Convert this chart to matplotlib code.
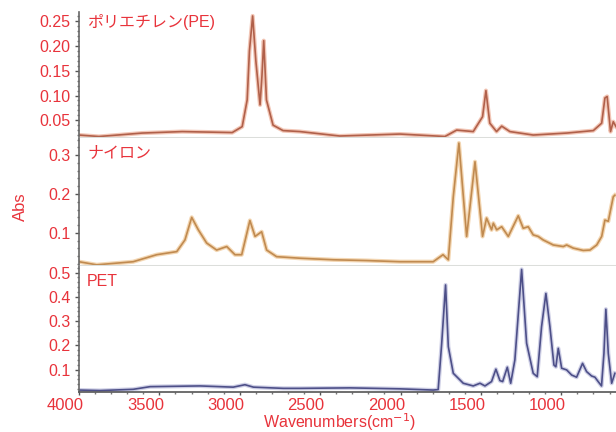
from matplotlib import pyplot as plt
from matplotlib.ticker import MultipleLocator
import matplotlib.transforms as mtransforms

plt.rcParams['font.family'] = ['Liberation Sans', 'Noto Sans CJK JP', 'DejaVu Sans']

RED = '#e8333b'

# spectra (wavenumber, absorbance)
pe_wn = [4000, 3876, 3607, 3358, 3047, 2985, 2954, 2940, 2920, 2900, 2874, 2862, 2851, 2834,
         2793, 2731, 2626, 2378, 2004, 1724, 1651, 1548, 1490, 1469, 1445, 1403, 1371, 1320,
         1175, 967, 801, 749, 729, 715, 694, 677, 660]
pe_abs = [0.020, 0.017, 0.024, 0.027, 0.025, 0.037, 0.091, 0.19, 0.261, 0.17, 0.081, 0.14, 0.211, 0.091,
          0.040, 0.029, 0.027, 0.018, 0.022, 0.017, 0.030, 0.027, 0.057, 0.110, 0.044, 0.027, 0.038, 0.027,
          0.020, 0.024, 0.029, 0.044, 0.095, 0.098, 0.027, 0.047, 0.037]

ny_wn = [4000, 3890, 3663, 3517, 3392, 3341, 3299, 3258, 3206, 3144, 3081, 3030, 2988, 2937,
         2905, 2864, 2833, 2771, 2626, 2418, 2211, 2004, 1797, 1736, 1703, 1672, 1637, 1589,
         1537, 1490, 1465, 1434, 1423, 1402, 1371, 1330, 1268, 1237, 1206, 1175, 1144, 1113,
         1050, 988, 967, 926, 864, 822, 780, 749, 729, 708, 677, 667]
ny_abs = [0.026, 0.018, 0.026, 0.044, 0.052, 0.082, 0.140, 0.108, 0.074, 0.056, 0.065, 0.044, 0.044, 0.132,
          0.091, 0.103, 0.056, 0.039, 0.035, 0.031, 0.029, 0.026, 0.026, 0.044, 0.031, 0.193, 0.331, 0.091,
          0.283, 0.091, 0.138, 0.108, 0.125, 0.108, 0.116, 0.091, 0.144, 0.112, 0.116, 0.095, 0.091, 0.082,
          0.069, 0.065, 0.069, 0.061, 0.055, 0.056, 0.069, 0.091, 0.133, 0.130, 0.193, 0.197]

pet_wn = [4000, 3869, 3663, 3558, 3248, 3041, 2968, 2915, 2729, 2626, 2315, 2004, 1797, 1766,
          1744, 1720, 1703, 1672, 1610, 1548, 1506, 1475, 1434, 1407, 1382, 1365, 1336, 1315,
          1289, 1247, 1216, 1175, 1150, 1123, 1096, 1071, 1046, 1034, 1019, 998, 967, 936,
          905, 868, 843, 812, 791, 771, 750, 735, 723, 708, 687, 667]
pet_abs = [0.016, 0.014, 0.019, 0.030, 0.033, 0.028, 0.038, 0.028, 0.023, 0.023, 0.025, 0.021, 0.016, 0.018,
           0.209, 0.449, 0.195, 0.085, 0.044, 0.033, 0.044, 0.033, 0.051, 0.102, 0.055, 0.051, 0.110, 0.044,
           0.140, 0.513, 0.209, 0.085, 0.071, 0.277, 0.414, 0.277, 0.119, 0.112, 0.188, 0.106, 0.099, 0.078,
           0.069, 0.126, 0.092, 0.074, 0.069, 0.051, 0.033, 0.167, 0.349, 0.167, 0.044, 0.085]

panels = [
    ('ポリエチレン(PE)', pe_wn, pe_abs, '#b0604a', '#f2c6b6', (0.014, 0.269), [0.05, 0.10, 0.15, 0.20, 0.25], 0.01, '{:.2f}'),
    ('ナイロン', ny_wn, ny_abs, '#c08a50', '#f3d6b2', (0.015, 0.344), [0.1, 0.2, 0.3], 0.02, '{:.1f}'),
    ('PET', pet_wn, pet_abs, '#4d4f88', '#cfd0e6', (0.008, 0.527), [0.1, 0.2, 0.3, 0.4, 0.5], 0.02, '{:.1f}'),
]

fig = plt.figure(figsize=(6.16, 4.32), dpi=100)
left, width = 79 / 616, 1 - 79 / 616
edges = [12, 138, 266, 392]  # pixel rows of panel borders
name_rows = [22, 153, 282]   # pixel rows of the panel names

axes = []
for i, (name, wn, ab, col, halo, ylim, yt, ymin, fmt) in enumerate(panels):
    top = 1 - edges[i] / 432
    bot = 1 - edges[i + 1] / 432
    ax = fig.add_axes([left, bot, width, top - bot])
    ax.plot(wn, ab, color=halo, lw=3.0, solid_joinstyle='round')
    ax.plot(wn, ab, color=col, lw=1.2, solid_joinstyle='round')
    ax.set_xlim(4000, 660)
    ax.set_ylim(*ylim)
    ax.set_yticks(yt)
    ax.set_yticklabels([fmt.format(v) for v in yt])
    ax.yaxis.set_minor_locator(MultipleLocator(ymin))
    ax.tick_params(axis='y', which='major', length=3, width=1, color='#555555',
                   labelcolor=RED, labelsize=11.5, pad=3)
    ax.tick_params(axis='y', which='minor', length=1.5, width=1, color='#777777')
    for s in ['top', 'right']:
        ax.spines[s].set_visible(False)
    ax.spines['left'].set_color('#666666')
    ax.spines['left'].set_linewidth(1.2)
    fig.text(87 / 616, 1 - name_rows[i] / 432, name, color=RED, fontsize=11.5,
             va='center', ha='left')
    if i < 2:
        ax.spines['bottom'].set_color('#dcdedb')
        ax.spines['bottom'].set_linewidth(2.2)
        ax.set_xticks([])
    else:
        ax.spines['bottom'].set_color('#555555')
        ax.spines['bottom'].set_linewidth(1.2)
    axes.append(ax)

ax = axes[2]
xt = [4000, 3500, 3000, 2500, 2000, 1500, 1000]
ax.set_xticks(xt)
ax.set_xticklabels([str(v) for v in xt])
ax.xaxis.set_minor_locator(MultipleLocator(100))
ax.tick_params(axis='x', which='major', length=2.5, width=1, color='#555555',
               labelcolor=RED, labelsize=12, pad=1.5)
ax.tick_params(axis='x', which='minor', length=1.5, width=1, color='#777777')

# labels in the reference sit left of their ticks
shift = mtransforms.ScaledTranslation(-14 / 100, 0, fig.dpi_scale_trans)
for lab in ax.get_xticklabels():
    lab.set_transform(lab.get_transform() + shift)

fig.text(0.033, 1 - 207 / 432, 'Abs', rotation=90, color=RED, fontsize=12,
         ha='center', va='center')
fig.text(340 / 616, 1 - 428 / 432, 'Wavenumbers(cm$^{-1}$)', color=RED, fontsize=11.5,
         ha='center', va='baseline')

fig.savefig('out.png', dpi=100)
